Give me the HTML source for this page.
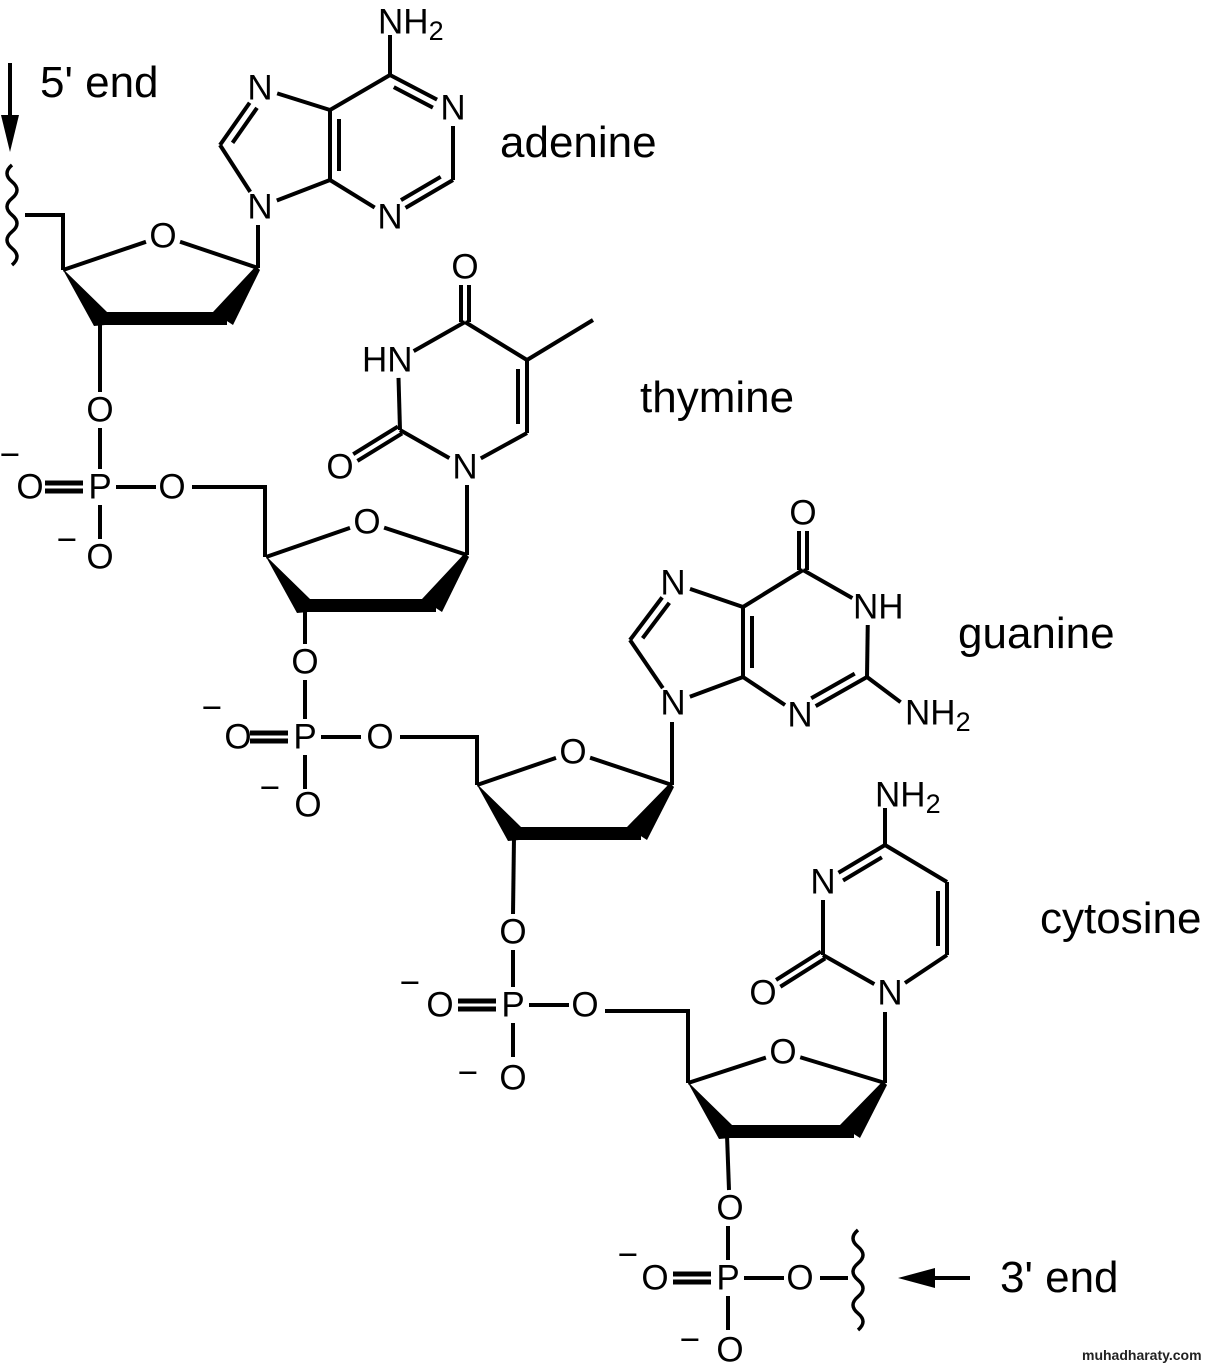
<!DOCTYPE html>
<html><head><meta charset="utf-8"><style>
html,body{margin:0;padding:0;background:#fff;}
svg{display:block;}
text{font-family:"Liberation Sans",Arial,sans-serif;fill:#000;}
.a{font-size:35px;text-anchor:middle;dominant-baseline:central;}
.s{font-size:35px;dominant-baseline:central;}
.lab{font-size:44px;}
</style></head><body>
<svg id="g" width="1208" height="1368" viewBox="0 0 1208 1368" xmlns="http://www.w3.org/2000/svg">
<g id="b" stroke="#000" stroke-width="4" fill="none" stroke-linecap="butt"></g>
<g id="f" fill="#000"></g>
<text x="40" y="97" class="lab">5' end</text>
<text x="1000" y="1292" class="lab">3' end</text>
<text x="500" y="157" class="lab">adenine</text>
<text x="640" y="412" class="lab">thymine</text>
<text x="958" y="648" class="lab">guanine</text>
<text x="1040" y="933" class="lab">cytosine</text>
<text x="1082" y="1360" style="font-size:14px;font-weight:bold;fill:#222">muhadharaty.com</text>
<text x="378" y="22" class="s">NH<tspan dy="9" font-size="27">2</tspan></text>
<text x="453" y="108" class="a">N</text>
<text x="390" y="217" class="a">N</text>
<text x="260" y="88" class="a">N</text>
<text x="260" y="207" class="a">N</text>
<text x="465" y="267" class="a">O</text>
<text x="362" y="360" class="s">HN</text>
<text x="340" y="467" class="a">O</text>
<text x="465" y="467" class="a">N</text>
<text x="803" y="513" class="a">O</text>
<text x="853" y="607" class="s">NH</text>
<text x="905" y="713" class="s">NH<tspan dy="9" font-size="27">2</tspan></text>
<text x="800" y="715" class="a">N</text>
<text x="673" y="583" class="a">N</text>
<text x="673" y="703" class="a">N</text>
<text x="875" y="795" class="s">NH<tspan dy="9" font-size="27">2</tspan></text>
<text x="823" y="882" class="a">N</text>
<text x="763" y="993" class="a">O</text>
<text x="890" y="993" class="a">N</text>
<text x="163" y="236" class="a">O</text>
<text x="367" y="522" class="a">O</text>
<text x="573" y="752" class="a">O</text>
<text x="783" y="1052" class="a">O</text>
<text x="100" y="410" class="a">O</text><text x="100" y="487" class="a">P</text><text x="30" y="487" class="a">O</text><text x="172" y="487" class="a">O</text><text x="100" y="557" class="a">O</text><text x="10" y="455" class="a">−</text><text x="67" y="540" class="a">−</text>
<text x="305" y="662" class="a">O</text><text x="305" y="737" class="a">P</text><text x="238" y="737" class="a">O</text><text x="380" y="737" class="a">O</text><text x="308" y="805" class="a">O</text><text x="212" y="708" class="a">−</text><text x="270" y="788" class="a">−</text>
<text x="513" y="932" class="a">O</text><text x="513" y="1005" class="a">P</text><text x="440" y="1005" class="a">O</text><text x="585" y="1005" class="a">O</text><text x="513" y="1078" class="a">O</text><text x="410" y="983" class="a">−</text><text x="468" y="1073" class="a">−</text>
<text x="730" y="1208" class="a">O</text><text x="728" y="1278" class="a">P</text><text x="655" y="1278" class="a">O</text><text x="800" y="1278" class="a">O</text><text x="730" y="1350" class="a">O</text><text x="628" y="1255" class="a">−</text><text x="690" y="1340" class="a">−</text>
</svg>
<script>
var B=document.getElementById('b'),F=document.getElementById('f'),NS='http://www.w3.org/2000/svg';
function el(p,t,a){var e=document.createElementNS(NS,t);for(var k in a)e.setAttribute(k,a[k]);p.appendChild(e);return e;}
function L(x1,y1,x2,y2,w){el(B,'line',{x1:x1,y1:y1,x2:x2,y2:y2,'stroke-width':w||4});}
function P(pts){el(F,'polygon',{points:pts.map(function(p){return p.join(',')}).join(' ')});}
function bond(a,b,dbl,cx,cy){
 var dx=b[0]-a[0],dy=b[1]-a[1],l=Math.hypot(dx,dy),ux=dx/l,uy=dy/l;
 var sa=a[2]||0,sb=b[2]||0;
 var x1=a[0]+ux*sa,y1=a[1]+uy*sa,x2=b[0]-ux*sb,y2=b[1]-uy*sb;
 var nx=-uy,ny=ux;
 if(dbl==='c'){L(x1+nx*4,y1+ny*4,x2+nx*4,y2+ny*4);L(x1-nx*4,y1-ny*4,x2-nx*4,y2-ny*4);return;}
 L(x1,y1,x2,y2);
 if(dbl==='i'){var mx=(a[0]+b[0])/2,my=(a[1]+b[1])/2;if((cx-mx)*nx+(cy-my)*ny<0){nx=-nx;ny=-ny;}
  var o=9,s=9;var ex1=a[0]+ux*Math.max(sa,s),ey1=a[1]+uy*Math.max(sa,s),ex2=b[0]-ux*Math.max(sb,s),ey2=b[1]-uy*Math.max(sb,s);
  L(ex1+nx*o,ey1+ny*o,ex2+nx*o,ey2+ny*o);}
}
var S=18;
var C6=[390,75],N1=[453,108,S],C2=[453,180],N3=[390,217,S],C4=[330,180],C5=[330,110],N7=[260,88,S],C8=[220,145],N9=[260,207,S];
bond([390,35],C6);bond(C6,N1,'i',390,145);bond(N1,C2);bond(C2,N3,'i',390,145);bond(N3,C4);bond(C4,C5,'i',390,145);bond(C5,C6);
bond(C5,N7);bond(N7,C8,'i',275,148);bond(C8,N9);bond(N9,C4);
var tC4=[465,322],tO=[465,267,S],tN3=[398,360,18],tC2=[400,430],tO2=[340,467,S],tN1=[465,467,S],tC6=[527,433],tC5=[527,360];
bond(tC4,tO,'c');bond(tC4,tN3);bond(tN3,tC2);bond(tC2,tO2,'c');bond(tC2,tN1);bond(tN1,tC6);bond(tC6,tC5,'i',465,395);bond(tC5,tC4);L(527,360,593,320);
var gO=[803,513,S],gC6=[803,570],gN1=[868,607,18],gC2=[867,677],gNH2=[915,713,18],gN3=[800,715,S],gC4=[743,677],gC5=[743,607],gN7=[673,583,S],gC8=[630,640],gN9=[673,703,S];
bond(gC6,gO,'c');bond(gC6,gN1);bond(gN1,gC2);bond(gC2,gNH2);bond(gC2,gN3,'i',805,640);bond(gN3,gC4);bond(gC4,gC5,'i',805,640);bond(gC5,gC6);
bond(gC5,gN7);bond(gN7,gC8,'i',690,645);bond(gC8,gN9);bond(gN9,gC4);
var cC4=[885,845],cN3=[823,882,S],cC2=[823,955],cO=[763,993,S],cN1=[890,993,S],cC6=[947,955],cC5=[947,882];
bond([885,808],cC4);bond(cC4,cN3,'i',885,918);bond(cN3,cC2);bond(cC2,cO,'c');bond(cC2,cN1);bond(cN1,cC6);bond(cC6,cC5,'i',885,918);bond(cC5,cC4);
function sugar(x,y,ox,oy,c1x,c1y,baseY){
 bond([x,y],[ox,oy,S]);bond([ox,oy,S],[c1x,c1y]);
 P([[x-1,y-2],[x+44,y+42],[x+42,y+55],[x+31,y+56]]);
 el(F,'rect',{x:x+37,y:y+42,width:c1x-x-68,height:13});
 P([[c1x-45,y+42],[c1x-2,c1y-2],[c1x+2,c1y+2],[c1x-25,y+55]]);
 L(c1x,c1y,c1x,baseY);
}
sugar(63,270,163,236,258,268,225);
sugar(266,557,367,522,467,555,485);
sugar(477,785,573,752,672,785,722);
sugar(688,1083,783,1052,885,1083,1012);
L(100,322,100,392);L(305,609,305,644);L(514,837,513,914);L(727,1135,729,1190);
function phos(px,py,ot){L(px,ot+18,px,py-18);L(px,py+18,px,py+52);L(px+16,py,px+56,py);
 L(px-55,py-4,px-17,py-4,5);L(px-55,py+4,px-17,py+4,5);}
phos(100,487,410);phos(305,737,662);phos(513,1005,932);phos(728,1278,1208);
el(B,'polyline',{points:'192,487 265,487 265,557'});
el(B,'polyline',{points:'400,737 477,737 477,785'});
el(B,'polyline',{points:'605,1011 688,1011 688,1083'});
L(820,1278,848,1278);L(25,215,63,215);L(63,213,63,270);
function wavy(x,y1,y2){var d='M'+x+','+y1,n=6,h=(y2-y1)/n;for(var i=0;i<n;i++){var s=(i%2?1:-1)*10;d+=' q'+s+','+(h/2)+' 0,'+h;}el(B,'path',{d:d,'stroke-width':3.5});}
wavy(12,165,265);wavy(858,1230,1330);
L(10,63,10,120);P([[1,115],[19,115],[10,152]]);
L(970,1278,930,1278);P([[935,1268],[935,1288],[898,1278]]);
</script>
</body></html>
